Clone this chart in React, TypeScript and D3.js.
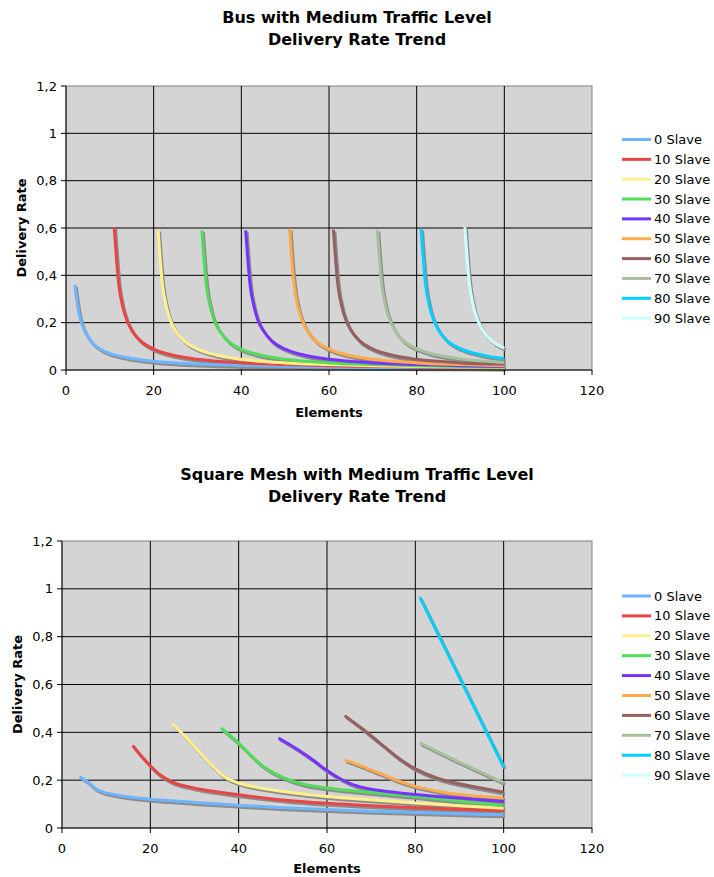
import React from "react";
import * as d3 from "d3";

type Pt = [number, number];

const seriesNames = ["0 Slave", "10 Slave", "20 Slave", "30 Slave", "40 Slave", "50 Slave", "60 Slave", "70 Slave", "80 Slave", "90 Slave"];
const seriesColors = ["#6DB6FF", "#E84545", "#FFF08C", "#52DC5C", "#7832FF", "#FFAA4C", "#966060", "#A8C09C", "#00D0FF", "#CCFFFF"];

const xTicks = [0, 20, 40, 60, 80, 100, 120];
const yTicks = [0, 0.2, 0.4, 0.6, 0.8, 1, 1.2];
const yTickLabels = ["0", "0,2", "0,4", "0,6", "0,8", "1", "1,2"];

// Bus chart
const bus0: Pt[] = [[2, 0.36], [3, 0.235], [4, 0.175], [5, 0.14], [6, 0.115], [8, 0.087], [10, 0.07], [14, 0.052], [20, 0.037], [30, 0.025], [40, 0.019], [50, 0.016], [60, 0.013], [70, 0.011], [80, 0.01], [90, 0.009], [100, 0.008]];
const bus10: Pt[] = [[11, 0.604], [12, 0.366], [13, 0.263], [14, 0.205], [15, 0.168], [17, 0.123], [20, 0.088], [25, 0.06], [30, 0.045], [40, 0.03], [50, 0.023], [60, 0.018], [70, 0.015], [80, 0.013], [90, 0.0115], [100, 0.01]];
const bus20: Pt[] = [[21, 0.593], [22, 0.36], [23, 0.26], [24, 0.2], [25, 0.165], [27, 0.122], [30, 0.088], [35, 0.06], [40, 0.045], [50, 0.03], [60, 0.023], [70, 0.018], [80, 0.015], [90, 0.013], [100, 0.0115]];
const bus30: Pt[] = [[31, 0.59], [32, 0.36], [33, 0.26], [34, 0.2], [35, 0.167], [37, 0.122], [40, 0.088], [45, 0.06], [50, 0.045], [60, 0.03], [70, 0.023], [80, 0.018], [90, 0.015], [100, 0.013]];
const bus40: Pt[] = [[41, 0.59], [42, 0.36], [43, 0.26], [44, 0.2], [45, 0.167], [47, 0.122], [50, 0.088], [55, 0.06], [60, 0.045], [70, 0.03], [80, 0.023], [90, 0.018], [100, 0.015]];
const bus50: Pt[] = [[51, 0.597], [52, 0.365], [53, 0.262], [54, 0.204], [55, 0.168], [57, 0.123], [60, 0.088], [65, 0.06], [70, 0.045], [80, 0.03], [90, 0.023], [100, 0.018]];
const bus60: Pt[] = [[61, 0.593], [62, 0.363], [63, 0.262], [64, 0.204], [65, 0.168], [67, 0.123], [70, 0.088], [75, 0.06], [80, 0.045], [90, 0.03], [100, 0.024]];
const bus70: Pt[] = [[71, 0.593], [72, 0.365], [73, 0.263], [74, 0.205], [75, 0.168], [77, 0.123], [80, 0.09], [85, 0.062], [90, 0.047], [100, 0.032]];
const bus80: Pt[] = [[81, 0.597], [82, 0.366], [83, 0.263], [84, 0.205], [85, 0.168], [87, 0.123], [90, 0.09], [95, 0.063], [100, 0.048]];
const bus90: Pt[] = [[91, 0.604], [92, 0.37], [93, 0.265], [94, 0.207], [95, 0.17], [97, 0.125], [100, 0.092]];

// Square mesh chart
const mesh0: Pt[] = [[4, 0.215], [6, 0.19], [8, 0.16], [10, 0.147], [14, 0.133], [20, 0.12], [30, 0.107], [40, 0.095], [50, 0.085], [60, 0.077], [70, 0.07], [80, 0.065], [90, 0.06], [100, 0.055]];
const mesh10: Pt[] = [[16, 0.345], [18, 0.3], [20, 0.26], [22, 0.225], [25, 0.192], [28, 0.175], [32, 0.16], [40, 0.139], [50, 0.117], [60, 0.103], [70, 0.093], [80, 0.085], [90, 0.078], [100, 0.072]];
const mesh20: Pt[] = [[25, 0.436], [28, 0.38], [31, 0.32], [34, 0.26], [37, 0.212], [40, 0.188], [45, 0.167], [50, 0.153], [60, 0.132], [70, 0.118], [80, 0.105], [90, 0.093], [100, 0.083]];
const mesh30: Pt[] = [[36, 0.418], [40, 0.355], [43, 0.3], [46, 0.252], [50, 0.212], [55, 0.182], [60, 0.167], [70, 0.148], [80, 0.132], [90, 0.112], [100, 0.093]];
const mesh40: Pt[] = [[49, 0.376], [53, 0.332], [57, 0.282], [60, 0.24], [63, 0.206], [66, 0.18], [70, 0.162], [80, 0.14], [90, 0.125], [100, 0.111]];
const mesh50: Pt[] = [[64, 0.285], [68, 0.258], [72, 0.228], [76, 0.198], [80, 0.174], [85, 0.154], [90, 0.14], [100, 0.125]];
const mesh60: Pt[] = [[64, 0.47], [68, 0.415], [72, 0.355], [76, 0.295], [80, 0.247], [85, 0.208], [90, 0.185], [100, 0.15]];
const mesh70: Pt[] = [[81, 0.357], [90, 0.275], [100, 0.19]];
const mesh80: Pt[] = [[81, 0.965], [100, 0.255]];
const mesh90: Pt[] = [];

const busSeries = [bus0, bus10, bus20, bus30, bus40, bus50, bus60, bus70, bus80, bus90];
const meshSeries = [mesh0, mesh10, mesh20, mesh30, mesh40, mesh50, mesh60, mesh70, mesh80, mesh90];

const FONT = "'DejaVu Sans', Verdana, sans-serif";

interface ChartProps {
  titleLines: string[];
  titleY: number;
  left: number;
  right: number;
  top: number;
  bottom: number;
  legendY: number;
  legendStep: number;
  data: Pt[][];
  xTitleOffset: number;
  smooth: boolean;
}

function Chart({ titleLines, titleY, left, right, top, bottom, legendY, legendStep, data, xTitleOffset, smooth }: ChartProps) {
  const x = d3.scaleLinear().domain([0, 120]).range([left, right]);
  const y = d3.scaleLinear().domain([0, 1.2]).range([bottom, top]);
  const line = d3
    .line<Pt>()
    .x((d) => x(d[0]))
    .y((d) => y(d[1]))
    .curve(smooth ? d3.curveCatmullRom.alpha(0.5) : d3.curveMonotoneX);
  const cx = (left + right) / 2;
  return (
    <g>
      {titleLines.map((t, i) => (
        <text key={t} x={357} y={titleY + i * 22} textAnchor="middle" fontFamily={FONT} fontWeight="bold" fontSize={16}>
          {t}
        </text>
      ))}
      <rect x={left} y={top} width={right - left} height={bottom - top} fill="#D4D4D4" stroke="#808080" strokeWidth={1} />
      {xTicks.slice(1, -1).map((t) => (
        <line key={"gx" + t} x1={x(t)} x2={x(t)} y1={top} y2={bottom} stroke="#000" strokeWidth={1} />
      ))}
      {yTicks.slice(1, -1).map((t) => (
        <line key={"gy" + t} x1={left} x2={right} y1={y(t)} y2={y(t)} stroke="#000" strokeWidth={1} />
      ))}
      <g>
        {data.map((s, i) =>
          s.length > 1 ? (
            <path key={"sh" + i} d={line(s) || ""} fill="none" stroke="#8C8C8C" strokeWidth={3} transform="translate(1.5,2)" strokeLinejoin="round" />
          ) : null
        )}
        {data.map((s, i) =>
          s.length > 1 ? (
            <path key={"ln" + i} d={line(s) || ""} fill="none" stroke={seriesColors[i]} strokeWidth={3} strokeLinejoin="round" />
          ) : null
        )}
      </g>
      <line x1={left} x2={left} y1={top} y2={bottom} stroke="#000" strokeWidth={1} />
      <line x1={left} x2={right} y1={bottom} y2={bottom} stroke="#000" strokeWidth={1} />
      {yTicks.map((t, i) => (
        <g key={"yt" + t}>
          <line x1={left - 5} x2={left} y1={y(t)} y2={y(t)} stroke="#000" strokeWidth={1} />
          <text x={left - 9} y={y(t)} dy="0.35em" textAnchor="end" fontFamily={FONT} fontSize={13} fill="#000">
            {yTickLabels[i]}
          </text>
        </g>
      ))}
      {xTicks.map((t) => (
        <g key={"xt" + t}>
          <line x1={x(t)} x2={x(t)} y1={bottom} y2={bottom + 5} stroke="#000" strokeWidth={1} />
          <text x={x(t)} y={bottom + 25} textAnchor="middle" fontFamily={FONT} fontSize={13} fill="#000">
            {t}
          </text>
        </g>
      ))}
      <text x={cx} y={bottom + xTitleOffset} textAnchor="middle" fontFamily={FONT} fontWeight="bold" fontSize={13}>
        Elements
      </text>
      <text
        transform={`translate(${left - 45},${(top + bottom) / 2}) rotate(-90)`}
        textAnchor="middle"
        dy="0.35em"
        fontFamily={FONT}
        fontWeight="bold"
        fontSize={13}
      >
        Delivery Rate
      </text>
      {seriesNames.map((n, i) => (
        <g key={"lg" + n}>
          <line x1={622} x2={651} y1={legendY + i * legendStep} y2={legendY + i * legendStep} stroke={seriesColors[i]} strokeWidth={3} />
          <text x={654} y={legendY + i * legendStep} dy="0.35em" fontFamily={FONT} fontSize={13} fill="#000">
            {n}
          </text>
        </g>
      ))}
    </g>
  );
}

export default function App() {
  return (
    <svg width={714} height={877} style={{ position: "absolute", left: 0, top: 0, background: "#fff" }}>
      <Chart
        titleLines={["Bus with Medium Traffic Level", "Delivery Rate Trend"]}
        titleY={23}
        left={66}
        right={592}
        top={86}
        bottom={370}
        legendY={139.5}
        legendStep={19.85}
        data={busSeries}
        xTitleOffset={47}
        smooth={false}
      />
      <Chart
        titleLines={["Square Mesh with Medium Traffic Level", "Delivery Rate Trend"]}
        titleY={480}
        left={62}
        right={592}
        top={541}
        bottom={828}
        legendY={596}
        legendStep={19.9}
        data={meshSeries}
        xTitleOffset={45}
        smooth={true}
      />
    </svg>
  );
}
